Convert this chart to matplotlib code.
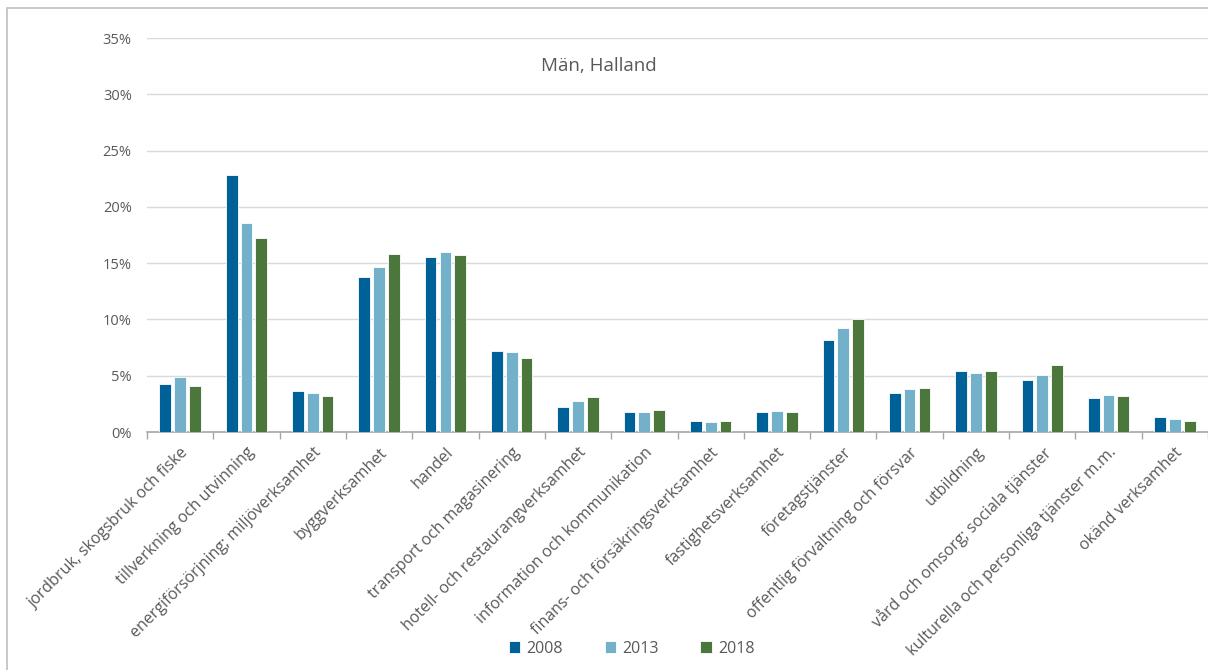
import numpy as np
import matplotlib
matplotlib.use('Agg')
import matplotlib.pyplot as plt
from matplotlib.patches import Rectangle
from matplotlib.ticker import PercentFormatter

plt.rcParams['font.family'] = ['Open Sans', 'DejaVu Sans']

# branscher
kategorier = ['jordbruk, skogsbruk och fiske', 'tillverkning och utvinning',
              'energiförsörjning; miljöverksamhet', 'byggverksamhet', 'handel',
              'transport och magasinering', 'hotell- och restaurangverksamhet',
              'information och kommunikation', 'finans- och försäkringsverksamhet',
              'fastighetsverksamhet', 'företagstjänster',
              'offentlig förvaltning och försvar', 'utbildning',
              'vård och omsorg; sociala tjänster',
              'kulturella och personliga tjänster m.m.', 'okänd verksamhet']

# andel (%) per år
v2008 = [4.25, 22.87, 3.62, 13.81, 15.56, 7.22, 2.20, 1.78, 0.98, 1.76, 8.13, 3.45, 5.39, 4.61, 3.00, 1.34]
v2013 = [4.87, 18.59, 3.47, 14.67, 16.01, 7.10, 2.73, 1.81, 0.92, 1.85, 9.20, 3.81, 5.21, 5.06, 3.30, 1.16]
v2018 = [4.13, 17.26, 3.18, 15.80, 15.68, 6.56, 3.09, 1.93, 0.98, 1.76, 10.00, 3.90, 5.42, 5.92, 3.18, 0.98]

ar = ['2008', '2013', '2018']
farger = ['#006199', '#73B0CA', '#4B773D']

fig = plt.figure(figsize=(12.08, 6.70), dpi=100)
ax = fig.add_axes([147/1208, 238/670, 1061/1208, 394/670])

x = np.arange(len(kategorier))
bredd = 0.177
steg = 0.223
for i, (vals, f, lab) in enumerate(zip([v2008, v2013, v2018], farger, ar)):
    ax.bar(x + (i - 1)*steg, np.array(vals)/100, width=bredd, color=f,
           edgecolor='white', linewidth=0.6, label=lab, zorder=3)

ax.set_xlim(-0.5, len(kategorier) - 0.5)
ax.set_ylim(0, 0.35)
ax.set_yticks(np.arange(0, 0.36, 0.05))
ax.yaxis.set_major_formatter(PercentFormatter(1.0, decimals=0))
ax.grid(axis='y', color='#D9D9D9', linewidth=1.0, zorder=0)

ax.set_xticks(x)
ax.set_xticklabels(kategorier, rotation=45, ha='right', rotation_mode='anchor',
                   fontsize=11.5, color='#595959')
ax.set_xticks(np.arange(-0.5, len(kategorier)), minor=True)
ax.tick_params(axis='x', which='major', length=0, pad=9)
ax.tick_params(axis='x', which='minor', length=5, color='#A6A6A6', width=1)
ax.tick_params(axis='y', length=0, pad=11, labelsize=10.5, labelcolor='#595959')

for s in ['left', 'right', 'top']:
    ax.spines[s].set_visible(False)
ax.spines['bottom'].set_color('#A6A6A6')
ax.spines['bottom'].set_linewidth(1.2)

ax.text(0.426, 0.929, 'Män, Halland', transform=ax.transAxes, ha='center',
        va='center', fontsize=13.5, color='#595959')

fig.legend(loc='center', bbox_to_anchor=(0.523, 0.032), ncol=3, frameon=False,
           fontsize=11.5, handlelength=0.7, handleheight=0.7, columnspacing=2.6,
           handletextpad=0.4, labelcolor='#595959')

fig.patches.append(Rectangle((7/1208, -0.1), 2, (670 - 8)/670 + 0.1, fill=False,
                             edgecolor='#BFBFBF', linewidth=1.2,
                             transform=fig.transFigure))

fig.savefig('out.png', dpi=100)
